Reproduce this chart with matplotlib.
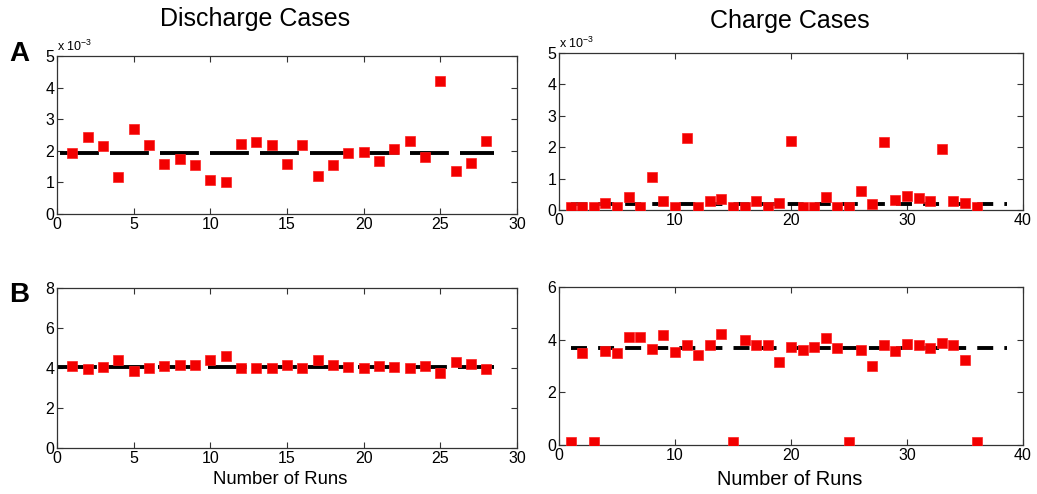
import matplotlib
matplotlib.use("Agg")
import matplotlib.pyplot as plt
import numpy as np

plt.rcParams['font.family'] = ['Liberation Sans', 'DejaVu Sans']
plt.rcParams['lines.scale_dashes'] = False

# Panel A: resistance-like values (x 10^-3)
runs_discharge = list(range(1, 29))
a_discharge = [1.92, 2.44, 2.15, 1.17, 2.69, 2.18, 1.59, 1.74, 1.56, 1.08,
               1.00, 2.21, 2.29, 2.18, 1.59, 2.18, 1.20, 1.54, 1.92, 1.96,
               1.69, 2.06, 2.32, 1.79, 4.22, 1.375, 1.625, 2.32]
a_discharge_mean = 1.94

runs_charge = list(range(1, 37))
a_charge = [0.10, 0.10, 0.10, 0.22, 0.10, 0.42, 0.10, 1.04, 0.30, 0.10,
            2.30, 0.10, 0.30, 0.35, 0.10, 0.10, 0.30, 0.10, 0.22, 2.21,
            0.10, 0.10, 0.40, 0.10, 0.10, 0.60, 0.18, 2.16, 0.33, 0.45,
            0.37, 0.30, 1.95, 0.30, 0.22, 0.10]
a_charge_mean = 0.19

# Panel B values
b_discharge = [4.08, 3.95, 4.05, 4.38, 3.83, 4.00, 4.10, 4.15, 4.15, 4.40,
               4.58, 4.00, 4.00, 4.00, 4.15, 4.00, 4.38, 4.15, 4.05, 4.00,
               4.08, 4.05, 4.00, 4.08, 3.77, 4.30, 4.20, 3.95]
b_discharge_mean = 4.03

b_charge = [0.10, 3.48, 0.10, 3.58, 3.51, 4.12, 4.12, 3.64, 4.19, 3.55,
            3.78, 3.43, 3.78, 4.23, 0.10, 3.98, 3.78, 3.81, 3.17, 3.71,
            3.61, 3.71, 4.08, 3.68, 0.10, 3.61, 2.99, 3.78, 3.58, 3.84,
            3.81, 3.68, 3.88, 3.78, 3.24, 0.10]
b_charge_mean = 3.68

W, H = 1037, 494
fig = plt.figure(figsize=(W / 100, H / 100), dpi=100)

ax_a1 = fig.add_axes([57/W, 1-214/H, 460/W, 158/H])
ax_a2 = fig.add_axes([559/W, 1-210/H, 464/W, 157/H])
ax_b1 = fig.add_axes([57/W, 1-448/H, 460/W, 160/H])
ax_b2 = fig.add_axes([559/W, 1-445/H, 464/W, 158/H])

def style(ax, xmax, ymax, ystep, xstep):
    ax.set_xlim(0, xmax)
    ax.set_ylim(0, ymax)
    ax.set_xticks(np.arange(0, xmax + 0.1, xstep))
    ax.set_yticks(np.arange(0, ymax + 0.1, ystep))
    ax.tick_params(direction='in', top=True, right=True, length=4,
                   width=0.8, labelsize=11.5, pad=2, colors='#333333',
                   labelcolor='black')
    for s in ax.spines.values():
        s.set_linewidth(0.9)
        s.set_color('#333333')

def draw(ax, x, y, mean, x0, x1, dashes):
    ax.plot([x0, x1], [mean, mean], color='black', lw=2.8,
            dashes=dashes, solid_capstyle='butt', dash_capstyle='butt', zorder=2)
    ax.plot(x, y, linestyle='none', marker='s', markersize=6.8,
            markerfacecolor='#f20000', markeredgecolor='#ff2020',
            markeredgewidth=0.5, zorder=3)

draw(ax_a1, runs_discharge, a_discharge, a_discharge_mean, 0.2, 28.5, (28, 8))
draw(ax_a2, runs_charge, a_charge, a_charge_mean, 1.0, 38.6, (11.5, 8))
draw(ax_b1, runs_discharge, b_discharge, b_discharge_mean, 0.05, 28.5, (28, 8))
draw(ax_b2, runs_charge, b_charge, b_charge_mean, 1.0, 38.6, (11.5, 8))

style(ax_a1, 30, 5, 1, 5)
style(ax_a2, 40, 5, 1, 10)
style(ax_b1, 30, 8, 2, 5)
style(ax_b2, 40, 6, 2, 10)

for ax in (ax_a1, ax_a2):
    ax.text(0.0, 1.01, r'x 10$^{\mathregular{-3}}$', transform=ax.transAxes,
            fontsize=9, ha='left', va='bottom')

fig.text(255/W, 1-26/H, 'Discharge Cases', fontsize=18, ha='center', va='baseline')
fig.text(790/W, 1-28/H, 'Charge Cases', fontsize=18, ha='center', va='baseline')

fig.text(280/W, 1-479/H, 'Number of Runs', fontsize=13.3, ha='center', va='center')
fig.text(790/W, 1-479/H, 'Number of Runs', fontsize=14.4, ha='center', va='center')

fig.text(9/W, 1-61/H, 'A', fontsize=20, fontweight='bold', ha='left', va='baseline')
fig.text(9/W, 1-302/H, 'B', fontsize=20, fontweight='bold', ha='left', va='baseline')

fig.savefig('out.png', dpi=100)
